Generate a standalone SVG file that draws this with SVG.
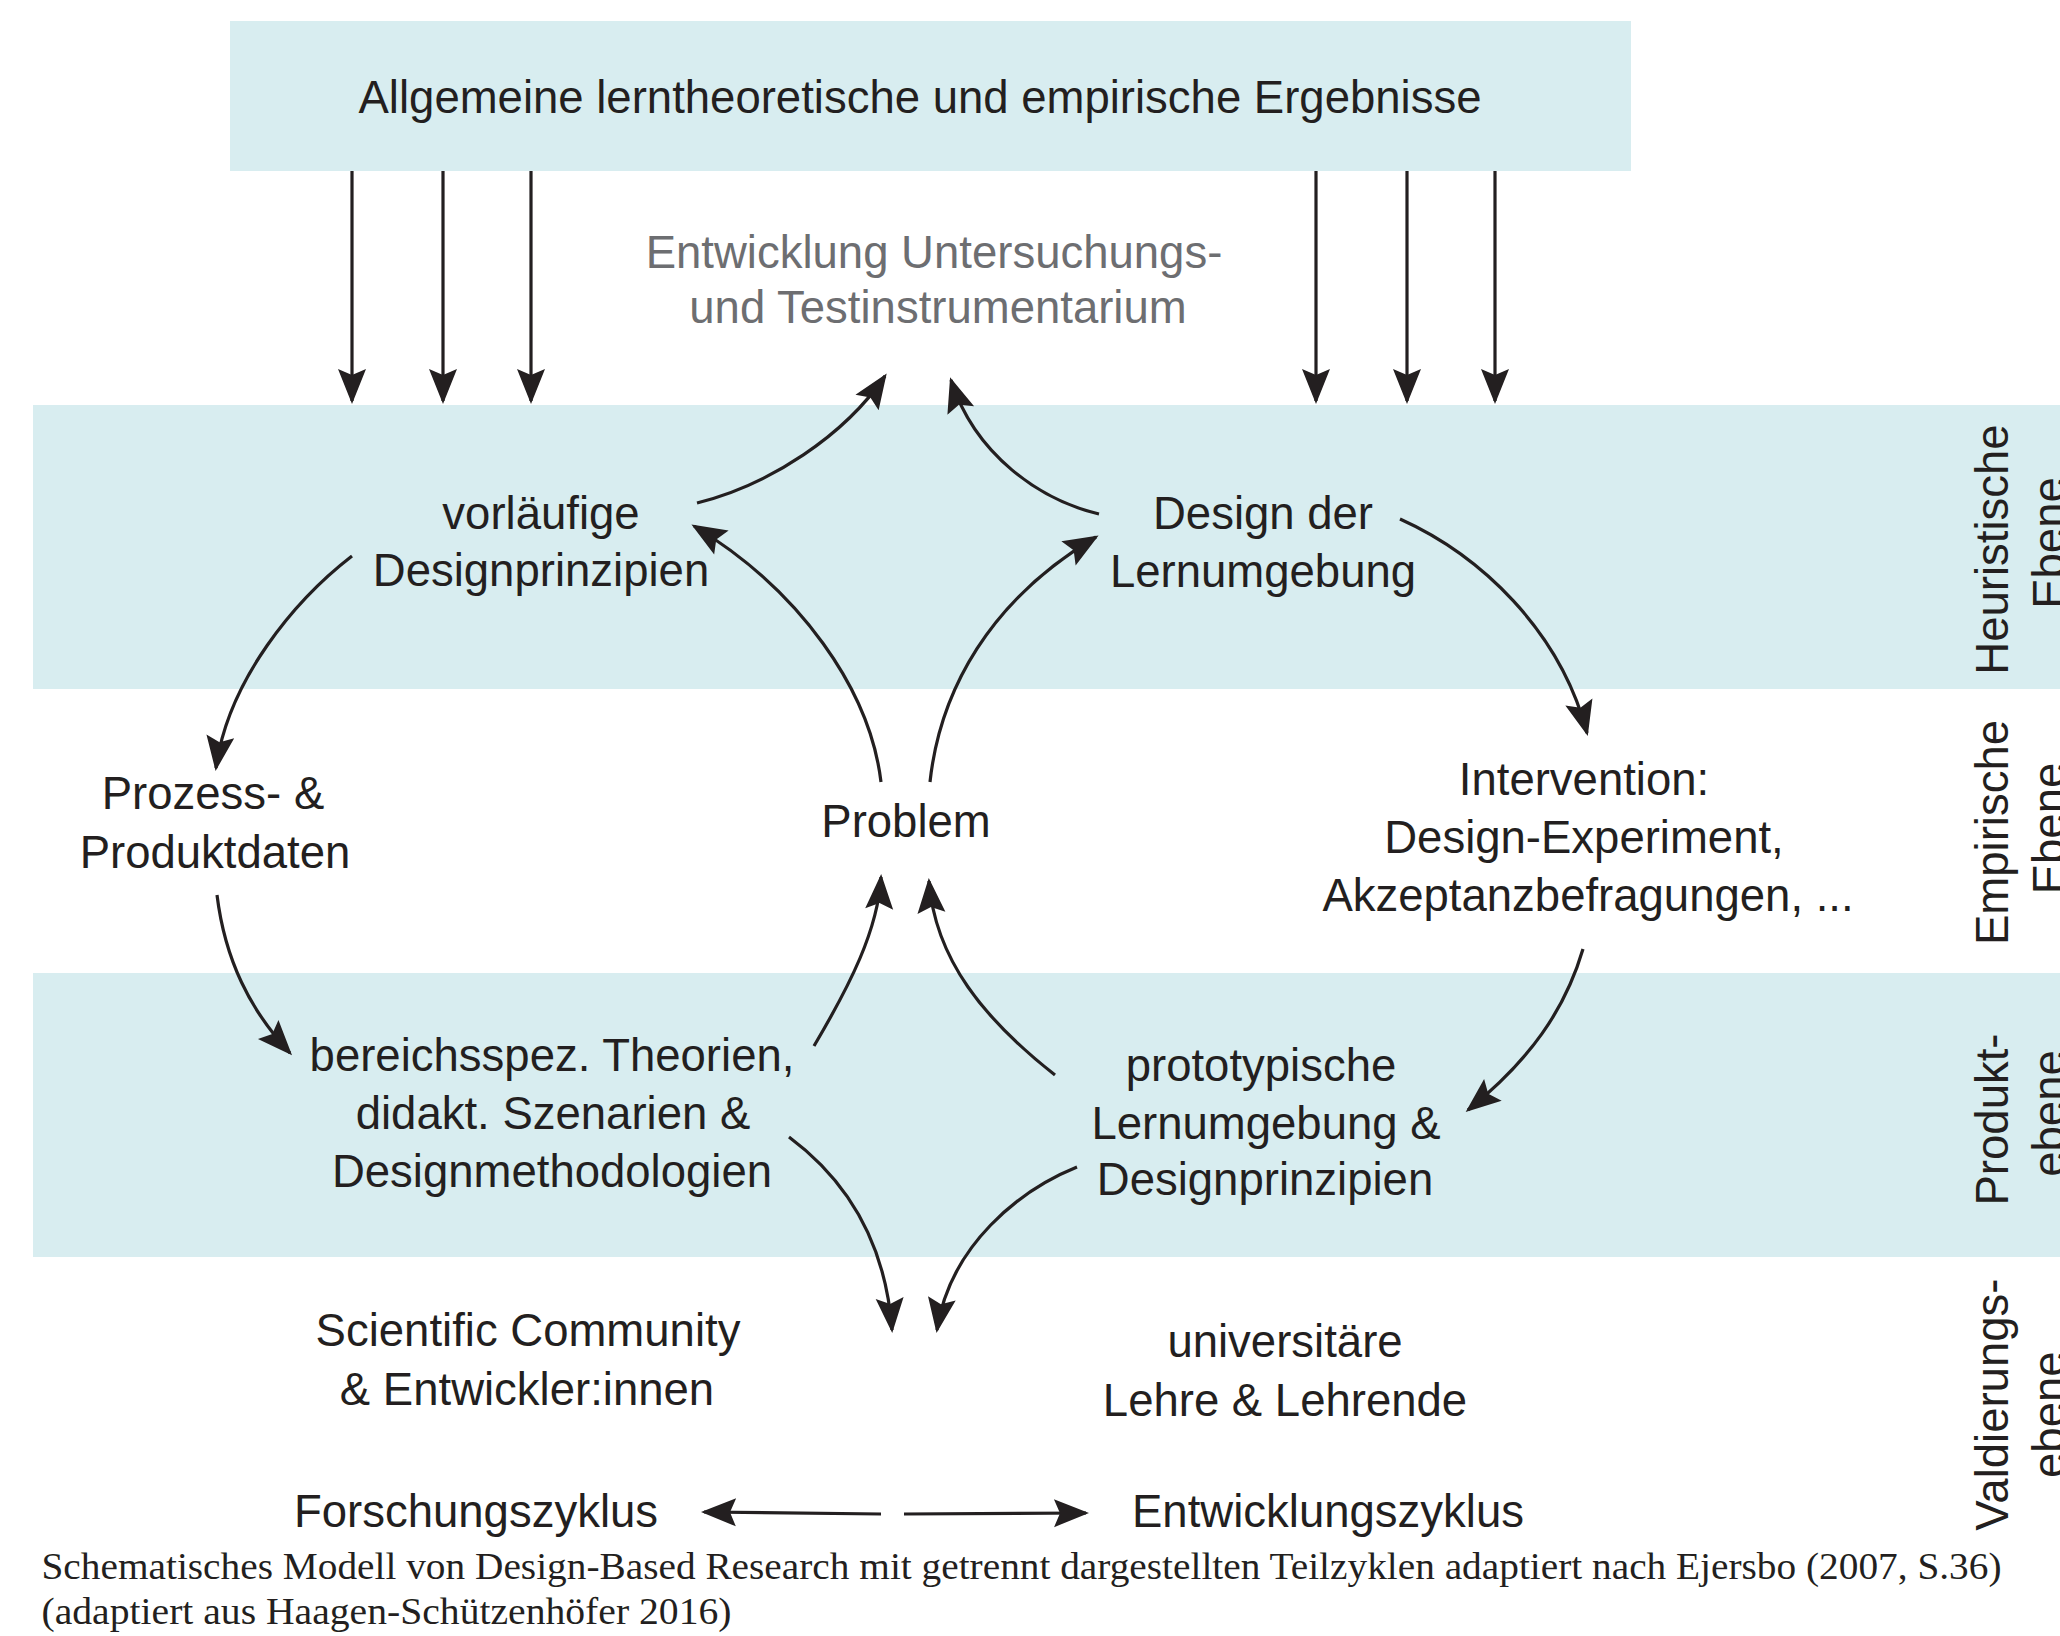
<svg xmlns="http://www.w3.org/2000/svg" width="2060" height="1636" viewBox="0 0 2060 1636">
<style>
.band{fill:#d8edf0}
.lbl{font-family:"Liberation Sans",Arial,sans-serif;font-size:45.5px;fill:#231f20;text-anchor:middle}
.gray{fill:#6d6e71}
.cap{font-family:"Liberation Serif","Times New Roman",serif;font-size:38px;fill:#231f20}
.con path{fill:none;stroke:#231f20;stroke-width:3.2;marker-end:url(#ah)}
</style>
<defs>
<marker id="ah" markerUnits="userSpaceOnUse" viewBox="-37 -16 41 32" markerWidth="41" markerHeight="32" refX="-3" refY="0" orient="auto">
<path d="M0,0 L-35,-14 L-29,0 L-35,14 Z" fill="#231f20"/>
</marker>
</defs>
<rect width="2060" height="1636" fill="#fff"/>
<g id="bands">
<rect class="band" x="33" y="405" width="2027" height="284"/>
<rect class="band" x="33" y="973" width="2027" height="284"/>
</g>
<g id="top-box">
<rect class="band" x="230" y="21" width="1401" height="150"/>
<text class="lbl" x="920" y="113">Allgemeine lerntheoretische und empirische Ergebnisse</text>
</g>
<g id="entwicklung-instrumentarium">
<text class="lbl gray" x="934" y="268">Entwicklung Untersuchungs-</text>
<text class="lbl gray" x="938" y="323">und Testinstrumentarium</text>
</g>
<g id="vorlaeufige">
<text class="lbl" x="541" y="529">vorläufige</text>
<text class="lbl" x="541" y="586">Designprinzipien</text>
</g>
<g id="design-lernumgebung">
<text class="lbl" x="1263" y="529">Design der</text>
<text class="lbl" x="1263" y="587">Lernumgebung</text>
</g>
<g id="prozessdaten">
<text class="lbl" x="213" y="809">Prozess- &amp;</text>
<text class="lbl" x="215" y="868">Produktdaten</text>
</g>
<g id="problem">
<text class="lbl" x="906" y="837">Problem</text>
</g>
<g id="intervention">
<text class="lbl" x="1584" y="795">Intervention:</text>
<text class="lbl" x="1584" y="853">Design-Experiment,</text>
<text class="lbl" x="1588" y="911">Akzeptanzbefragungen, ...</text>
</g>
<g id="bereichsspez">
<text class="lbl" x="552" y="1071">bereichsspez. Theorien,</text>
<text class="lbl" x="553" y="1129">didakt. Szenarien &amp;</text>
<text class="lbl" x="552" y="1187">Designmethodologien</text>
</g>
<g id="prototypische">
<text class="lbl" x="1261" y="1081">prototypische</text>
<text class="lbl" x="1266" y="1139">Lernumgebung &amp;</text>
<text class="lbl" x="1265" y="1195">Designprinzipien</text>
</g>
<g id="scientific-community">
<text class="lbl" x="528" y="1346">Scientific Community</text>
<text class="lbl" x="527" y="1405">&amp; Entwickler:innen</text>
</g>
<g id="universitaere-lehre">
<text class="lbl" x="1285" y="1357">universitäre</text>
<text class="lbl" x="1285" y="1416">Lehre &amp; Lehrende</text>
</g>
<g id="forschungszyklus">
<text class="lbl" x="476" y="1527">Forschungszyklus</text>
</g>
<g id="entwicklungszyklus">
<text class="lbl" x="1328" y="1527">Entwicklungszyklus</text>
</g>
<g id="ebenen">
<text class="lbl" transform="translate(2008,549.5) rotate(-90)">Heuristische</text>
<text class="lbl" transform="translate(2065,543) rotate(-90)">Ebene</text>
<text class="lbl" transform="translate(2008,832.5) rotate(-90)">Empirische</text>
<text class="lbl" transform="translate(2065,828.5) rotate(-90)">Ebene</text>
<text class="lbl" transform="translate(2008,1119.5) rotate(-90)">Produkt-</text>
<text class="lbl" transform="translate(2065,1113.5) rotate(-90)">ebene</text>
<text class="lbl" transform="translate(2008,1404.6) rotate(-90)">Valdierungs-</text>
<text class="lbl" transform="translate(2065,1414.7) rotate(-90)">ebene</text>
</g>
<g id="connectors" class="con">
<path d="M352,171 V401"/>
<path d="M443,171 V401"/>
<path d="M531,171 V401"/>
<path d="M1316,171 V401"/>
<path d="M1407,171 V401"/>
<path d="M1495,171 V401"/>
<path d="M697,503 C770,485 845,435 885,376"/>
<path d="M1099,514 C1040,500 975,455 951,380"/>
<path d="M881,782 C870,690 800,590 694,526"/>
<path d="M930,782 C940,690 990,600 1096,537"/>
<path d="M814,1046 C850,985 878,930 881,877"/>
<path d="M1055,1075 C985,1020 935,960 929,881"/>
<path d="M789,1137 C840,1175 885,1235 892,1330"/>
<path d="M1077,1167 C1020,1190 950,1245 937,1330"/>
<path d="M352,556 C295,600 228,680 216,768"/>
<path d="M217,895 C225,960 250,1010 290,1053"/>
<path d="M1400,519 C1480,555 1560,630 1587,733"/>
<path d="M1583,949 C1565,1010 1530,1060 1468,1110"/>
<path d="M881,1514 L704,1512"/>
<path d="M904,1514 L1086,1513"/>
</g>
<g id="caption">
<text class="cap" x="41.5" y="1579" textLength="1960" lengthAdjust="spacingAndGlyphs">Schematisches Modell von Design-Based Research mit getrennt dargestellten Teilzyklen adaptiert nach Ejersbo (2007, S.36)</text>
<text class="cap" x="41.5" y="1624" textLength="690" lengthAdjust="spacingAndGlyphs">(adaptiert aus Haagen-Schützenhöfer 2016)</text>
</g>
</svg>
